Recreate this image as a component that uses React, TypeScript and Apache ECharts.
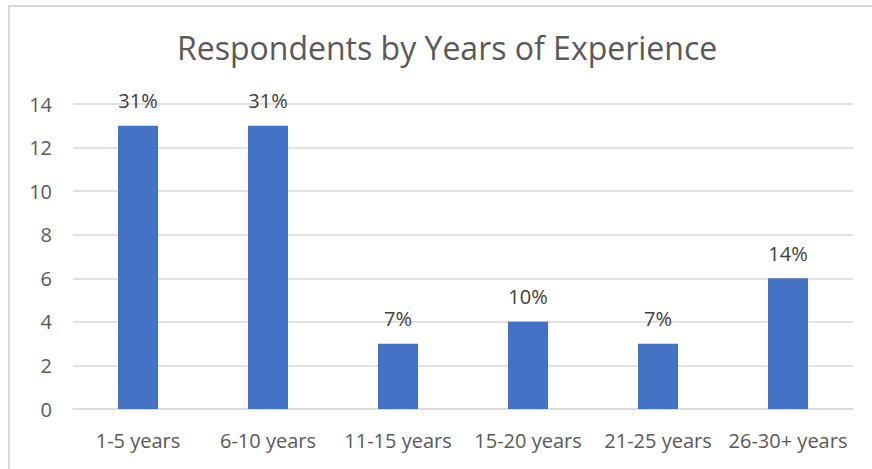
import React, { useEffect, useRef } from "react";
import * as echarts from "echarts";

const categories = ["1-5 years", "6-10 years", "11-15 years", "15-20 years", "21-25 years", "26-30+ years"];
const counts = [13, 13, 3, 4, 3, 6];
const percentLabels = ["31%", "31%", "7%", "10%", "7%", "14%"];
const titleText = "Respondents by Years of Experience";

export default function App() {
  const ref = useRef<HTMLDivElement>(null);
  useEffect(() => {
    if (!ref.current) return;
    const chart = echarts.init(ref.current, null, { renderer: "svg" });
    const font = "'Open Sans', sans-serif";
    chart.setOption({
      animation: false,
      backgroundColor: "#ffffff",
      title: {
        text: titleText,
        left: 172,
        top: 26,
        textStyle: { fontFamily: font, fontSize: 32, fontWeight: "normal", color: "#595959" },
      },
      graphic: [
        { type: "line", shape: { x1: 8, y1: 6, x2: 872, y2: 6 }, style: { stroke: "#d9d9d9", lineWidth: 2 } },
        { type: "line", shape: { x1: 9, y1: 5, x2: 9, y2: 469 }, style: { stroke: "#d9d9d9", lineWidth: 2 } },
      ],
      grid: { left: 73, right: 19, top: 104, bottom: 60, containLabel: false },
      xAxis: {
        type: "category",
        data: categories,
        axisTick: { show: false },
        axisLine: { lineStyle: { color: "#d9d9d9", width: 1.5 } },
        axisLabel: { fontFamily: font, fontSize: 20, color: "#595959", margin: 21, interval: 0 },
      },
      yAxis: {
        type: "value",
        min: 0,
        max: 14,
        interval: 2,
        axisLine: { show: false },
        axisTick: { show: false },
        splitLine: { lineStyle: { color: "#d9d9d9", width: 1.5 } },
        axisLabel: { fontFamily: font, fontSize: 20, color: "#595959", margin: 21 },
      },
      series: [
        {
          type: "bar",
          data: counts,
          barWidth: 40,
          itemStyle: { color: "#4472C4" },
          label: {
            show: true,
            position: "top",
            distance: 15,
            fontFamily: font,
            fontSize: 20,
            color: "#404040",
            formatter: (p: any) => percentLabels[p.dataIndex],
          },
        },
      ],
    });
    return () => chart.dispose();
  }, []);
  return <div ref={ref} style={{ position: "fixed", left: 0, top: 0, width: 872, height: 469 }} />;
}
